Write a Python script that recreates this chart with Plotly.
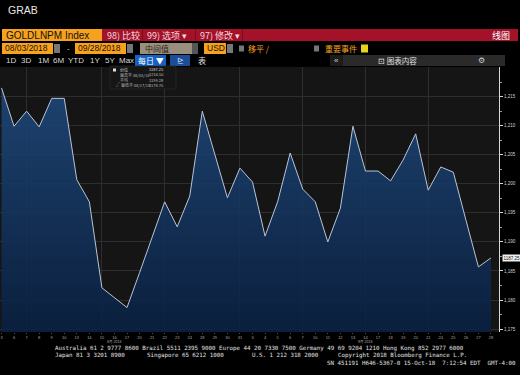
import plotly.graph_objects as go

# ---------------- data ----------------
dates = ["08/03", "08/06", "08/07", "08/08", "08/09", "08/10", "08/13", "08/14", "08/15", "08/16",
         "08/17", "08/20", "08/21", "08/22", "08/23", "08/24", "08/28", "08/29", "08/30", "08/31",
         "09/03", "09/04", "09/05", "09/06", "09/07", "09/10", "09/11", "09/12", "09/13", "09/14",
         "09/17", "09/18", "09/19", "09/20", "09/21", "09/24", "09/25", "09/26", "09/27", "09/28"]
prices = [1216.5, 1209.9, 1212.5, 1209.8, 1214.7, 1214.7, 1200.7, 1196.9, 1182.1, 1180.4,
          1178.7, 1184.7, 1190.9, 1196.9, 1192.6, 1197.9, 1212.5, 1205.1, 1197.6, 1202.7,
          1200.3, 1191.0, 1196.9, 1205.3, 1199.1, 1196.9, 1190.0, 1195.8, 1209.9, 1202.2,
          1202.2, 1200.5, 1204.1, 1208.6, 1198.9, 1202.9, 1202.0, 1193.8, 1185.7, 1187.25]
month_labels = {9: "8月 2018", 29: "9月 2018"}
y_ticks = [1175, 1180, 1185, 1190, 1195, 1200, 1205, 1210, 1215]
y_minor = [1177.5, 1182.5, 1187.5, 1192.5, 1197.5, 1202.5, 1207.5, 1212.5, 1217.5]
grid_days = [2, 8, 13, 19, 24, 29, 34]

idx = list(range(len(prices)))
tick_text = [str(int(d.split("/")[1])) for d in dates]

W, H = 520, 375
def X(p):
    return p / W
def Y(p):
    return 1 - p / H

LAT = "Liberation Sans, Arial, sans-serif"
CJK = "Noto Sans CJK SC, sans-serif"
MONO = "DejaVu Sans Mono, monospace"

fig = go.Figure()
fig.add_trace(go.Scatter(
    x=idx, y=prices, mode="lines",
    line=dict(color="#b9c4d4", width=1),
    fill="tozeroy",
    fillgradient=dict(type="vertical",
                      colorscale=[[0, "rgba(9,32,66,0.88)"], [1, "rgba(32,76,128,0.88)"]],
                      start=1174.5, stop=1220),
    hoverinfo="skip", showlegend=False,
))

xr = [-0.12, 39.64]
fig.update_layout(
    width=W, height=H, margin=dict(l=0, r=0, t=0, b=0),
    paper_bgcolor="#000000", plot_bgcolor="#151515",
    showlegend=False,
    xaxis=dict(domain=[0, X(499)], range=xr, tickmode="array", tickvals=idx, ticktext=tick_text,
               showgrid=False, zeroline=False, ticks="outside", ticklen=1, tickcolor="#555",
               tickfont=dict(size=4, color="#a8a8a8", family=LAT), tickangle=0),
    xaxis2=dict(overlaying="x", anchor="y", range=xr, tickmode="array", tickvals=grid_days,
                showgrid=True, gridcolor="#2e2e2e", gridwidth=1, showticklabels=False,
                ticks="", zeroline=False, showline=False),
    yaxis=dict(domain=[Y(332), Y(67)], range=[1174.5, 1220.1], side="right",
               tickmode="array", tickvals=y_ticks, ticktext=[f"{v:,}" for v in y_ticks],
               showgrid=True, gridcolor="#2e2e2e", zeroline=False,
               showline=True, linecolor="#d8d8d8", linewidth=1,
               ticks="outside", ticklen=3, tickcolor="#d8d8d8",
               minor=dict(tickmode="array", tickvals=y_minor, ticks="outside", ticklen=2,
                          tickcolor="#999", showgrid=False),
               tickfont=dict(size=4.5, color="#d0d0d0", family=LAT)),
)
fig.add_trace(go.Scatter(x=[idx[0]], y=[prices[0]], xaxis="x2", yaxis="y", mode="markers",
                         marker=dict(opacity=0), hoverinfo="skip", showlegend=False))

shapes = []
ann = []
def rect(x0, y0, x1, y1, color, line=None):
    shapes.append(dict(type="rect", xref="paper", yref="paper", x0=X(x0), x1=X(x1),
                       y0=Y(y1), y1=Y(y0), fillcolor=color,
                       line=dict(width=0 if line is None else 0.6, color=line or color),
                       layer="above"))
def text(x, y, s, size=8, color="#ffffff", family=LAT, anchor="left", bg=None):
    a = dict(xref="paper", yref="paper", x=X(x), y=Y(y), text=s, showarrow=False,
             xanchor=anchor, yanchor="middle", font=dict(size=size, color=color, family=family))
    if bg:
        a["bgcolor"] = bg
    ann.append(a)

# month labels under the day ticks
for i, lab in month_labels.items():
    ann.append(dict(xref="x", yref="paper", x=i, y=Y(341.5), text=lab, showarrow=False,
                    xanchor="center", yanchor="middle", borderpad=0,
                    font=dict(size=3.6, color="#a8a8a8", family=CJK)))

# title
text(6, 10, "GRAB", size=10.5, color="#e8e8e8")

# row 1
rect(2, 29, 102, 41, "#f7a21e")
text(4, 35, "GOLDLNPM Index", size=10, color="#111111")
rect(102, 29, 518, 41, "#a4122a")
for xs in [142, 195, 242]:
    rect(xs, 29, xs + 1, 41, "#7a0c1e")
text(105, 35, "98) 比较", size=9, color="#f2d8dc", family=CJK)
text(145, 35, "99) 选项 ▾", size=9, color="#f2d8dc", family=CJK)
text(198, 35, "97) 修改 ▾", size=9, color="#f2d8dc", family=CJK)
text(490, 35, "线图", size=9, color="#ffffff", family=CJK)

# row 2
rect(2, 43, 53, 54, "#f7a21e")
text(3, 48.5, "08/03/2018", size=8.5, color="#1a1000")
rect(54, 44, 60, 53, "#777777")
text(65, 48.5, "-", size=8, color="#dddddd")
rect(75, 43, 126, 54, "#f7a21e")
text(76, 48.5, "09/28/2018", size=8.5, color="#1a1000")
rect(127, 44, 133, 53, "#777777")
rect(140, 43, 192, 54, "#9a8e7c")
text(143, 48.5, "中间值", size=8, color="#2a2418", family=CJK)
rect(192, 43, 198, 54, "#555555")
rect(204, 43, 226, 54, "#f7a21e")
text(205, 48.5, "USD", size=8.5, color="#1a1000")
rect(227, 44, 233, 53, "#777777")
rect(239, 45.5, 244, 51.5, "#777777")
text(246, 48.5, "移平 /", size=8, color="#f7a21e", family=CJK)
rect(314, 45.5, 319, 51.5, "#777777")
text(323, 48.5, "重要事件", size=8, color="#f7a21e", family=CJK)
rect(361, 44.5, 368, 52.5, "#e8d21a")

# row 3
for lab, xp in [("1D", 4), ("3D", 19), ("1M", 36), ("6M", 51), ("YTD", 66), ("1Y", 88), ("5Y", 103), ("Max", 117)]:
    text(xp, 60.5, lab, size=8, color="#d8d8d8")
rect(135, 55, 166, 66, "#1560c4")
text(150.5, 60.5, "每日 ▼", size=8, color="#ffffff", family=CJK, anchor="center")
rect(170, 55, 190, 66, "#1b4d98")
text(180, 60.5, "⊵", size=8, color="#cfe0ff", family="DejaVu Sans", anchor="center")
text(196, 60.5, "表", size=8, color="#e0e0e0", family=CJK)
rect(330, 55, 505, 66, "#2a2a2a")
rect(330, 55, 343, 66, "#1c1c1c")
text(336.5, 60.5, "«", size=8, color="#d0d0d0", anchor="center")
text(397, 60.5, "⊡ 图表内容", size=7.5, color="#e0e0e0", family=CJK, anchor="center")
text(481, 60.5, "⚙", size=8, color="#d0d0d0", family="DejaVu Sans", anchor="center")

# stats tooltip box
imax = prices.index(max(prices))
imin = prices.index(min(prices))
avg = sum(prices) / len(prices)
rect(110, 66, 176, 89, "#161616", line="#2c2c2c")
rect(113, 68.5, 116, 71.5, "#e0e0e0")
text(118, 70, "价位", size=4, color="#dddddd", family=CJK)
text(166, 70, f"{prices[-1]:.2f}", size=4, color="#dddddd", anchor="right")
text(118, 75, f"最高平 {dates[imax]}/18", size=4, color="#bbbbbb", family=CJK)
text(166, 75, f"{max(prices):.2f}", size=4, color="#bbbbbb", anchor="right")
text(118, 80, "平均", size=4, color="#bbbbbb", family=CJK)
text(166, 80, f"{avg:.2f}", size=4, color="#bbbbbb", anchor="right")
text(114, 85, f"√ 最低平 {dates[imin]}/18", size=4, color="#bbbbbb", family=CJK)
text(166, 85, f"{min(prices):.2f}", size=4, color="#bbbbbb", anchor="right")

# last value label
ann.append(dict(xref="paper", yref="y", x=X(502), y=prices[-1], text=f"{prices[-1]:.2f}",
                showarrow=False, xanchor="left", yanchor="middle", bgcolor="#f0f0f0",
                borderpad=0.5, font=dict(size=4.5, color="#111111", family=LAT)))

# footer
text(53, 348, "Australia 61 2 9777 8600 Brazil 5511 2395 9000 Europe 44 20 7330 7500 Germany 49 69 9204 1210 Hong Kong 852 2977 6000",
     size=5.8, color="#e0e0e0", family=MONO)
text(53, 355, "Japan 81 3 3201 8900", size=5.8, color="#e0e0e0", family=MONO)
text(145, 355, "Singapore 65 6212 1000", size=5.8, color="#e0e0e0", family=MONO)
text(250, 355, "U.S. 1 212 318 2000", size=5.8, color="#e0e0e0", family=MONO)
text(336, 355, "Copyright 2018 Bloomberg Finance L.P.", size=5.8, color="#e0e0e0", family=MONO)
text(325, 362.5, "SN 451191 H646-5367-0 15-Oct-18  7:12:54 EDT  GMT-4:00", size=5.8, color="#e0e0e0", family=MONO)

fig.update_layout(shapes=shapes, annotations=ann)
fig.write_html("out.html")
